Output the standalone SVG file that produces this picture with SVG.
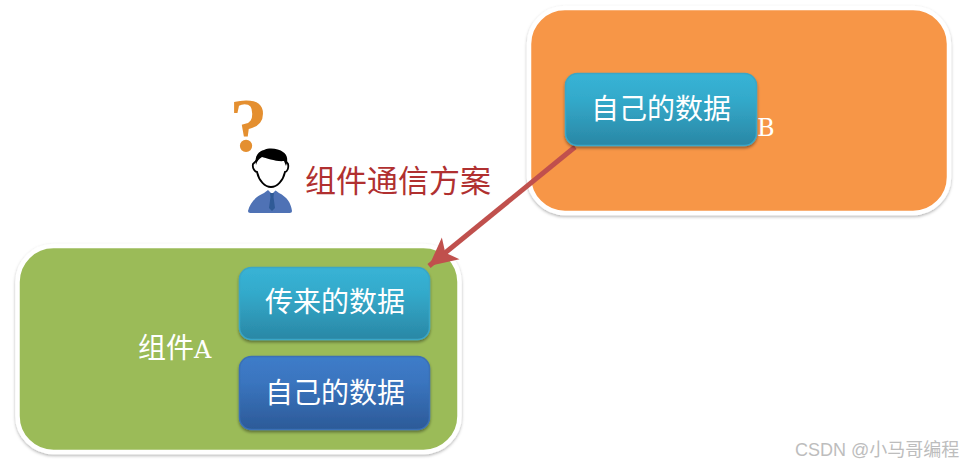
<svg xmlns="http://www.w3.org/2000/svg" width="964" height="467" viewBox="0 0 964 467">
<style>
.cn{font-family:"Noto Sans CJK SC","Liberation Sans",sans-serif}
.box{stroke-width:1.5}
.lbl{font-size:28px;fill:#fff;text-anchor:middle;font-family:"Noto Sans CJK SC","Liberation Sans",sans-serif;font-weight:400}
.panel{stroke:#fff;stroke-width:4.5;filter:url(#ps)}
.lat{font-family:"DejaVu Serif","Liberation Serif",serif;font-size:24px;fill:#fff;font-weight:400}
</style>
<defs>
<linearGradient id="teal" x1="0" y1="0" x2="0" y2="1"><stop offset="0" stop-color="#38b3d6"/><stop offset=".35" stop-color="#33aacb"/><stop offset="1" stop-color="#2a87a5"/></linearGradient>
<linearGradient id="blue" x1="0" y1="0" x2="0" y2="1"><stop offset="0" stop-color="#3e7cc9"/><stop offset=".35" stop-color="#3a75bf"/><stop offset="1" stop-color="#2c5a98"/></linearGradient>
<filter id="ps" x="-5%" y="-5%" width="110%" height="110%"><feDropShadow dx="0" dy="1.5" stdDeviation="1.5" flood-color="#000" flood-opacity=".3"/></filter>
<filter id="bs" x="-10%" y="-10%" width="120%" height="125%"><feDropShadow dx="0" dy="2" stdDeviation="1.5" flood-color="#000" flood-opacity=".4"/></filter>
<marker id="ah" markerUnits="userSpaceOnUse" markerWidth="32" markerHeight="30" refX="28" refY="15" orient="auto"><path d="M0,1 L28,15 L0,29 L7,15 Z" fill="#c0504d"/></marker>
</defs>
<g id="node-b">
<rect class="panel" x="529" y="8" width="420" height="205" rx="36" fill="#f79646"/>
<text class="lat" x="757" y="136">B</text>
</g>
<g id="node-a">
<rect class="panel" x="17.500" y="246" width="442" height="206" rx="36" fill="#9bbb59"/>
<text class="cn" x="138" y="358" font-size="28" fill="#fff">组件<tspan class="lat">A</tspan></text>
</g>
<g id="connectors">
<line x1="575" y1="147" x2="429" y2="266" stroke="#c0504d" stroke-width="5" marker-end="url(#ah)"/>
</g>
<g id="node-b-data">
<rect class="box" x="565.500" y="73.500" width="191" height="72" rx="12" fill="url(#teal)" stroke="#3aa6c6" filter="url(#bs)"/>
<text class="lbl" x="661" y="119">自己的数据</text>
</g>
<g id="node-incoming">
<rect class="box" x="239.500" y="267.500" width="190" height="72" rx="12" fill="url(#teal)" stroke="#3aa6c6" filter="url(#bs)"/>
<text class="lbl" x="335" y="312">传来的数据</text>
</g>
<g id="node-a-data">
<rect class="box" x="239.500" y="356.500" width="190" height="73" rx="12" fill="url(#blue)" stroke="#3a70b5" filter="url(#bs)"/>
<text class="lbl" x="335" y="403">自己的数据</text>
</g>
<g id="person">
<text x="248.500" y="151" font-family="Liberation Serif,serif" font-weight="700" font-size="76" fill="#e48f30" text-anchor="middle">?</text>
<path d="M248,211 C250,203 255,197 264,193 L268,190 L275,190 L279,193 C287,197 291,203 292,211 C292,213 290,213 288,213 L252,213 C250,213 248,213 248,211 Z" fill="#4f72b5"/>
<path d="M268,190 L272,194 L276,190 L275,188 L269,188 Z" fill="#fff"/>
<path d="M270,193 L274,193 L273.500,197 L275,208 L272,211 L269,208 L270.500,197 Z" fill="#2f5a96"/>
<path d="M257,160 C257,154 263,151 271,151 C279,151 285,154 285,160 L288,164 C289,168 287,172 285,172 C283,181 277,187 271,187 C265,187 259,181 257,172 C255,172 252,168 253,164 Z" fill="#fff" stroke="#000" stroke-width="1.800"/>
<path d="M256,165 C254,156 259,151 264,150 C270,147 279,149 283,152 C288,155 288,161 286,166 L284,161 C277,162 266,158 262,157 C259,159 257,161 256,165 Z" fill="#000"/>
</g>
<g id="title"><text class="cn" x="305" y="192" font-size="31" fill="#b03030">组件通信方案</text></g>
<g id="watermark"><text x="795" y="456" font-family="Liberation Sans,Noto Sans CJK SC,sans-serif" font-size="18" fill="#bdbdbd">CSDN @<tspan class="cn">小马哥编程</tspan></text></g>
</svg>
